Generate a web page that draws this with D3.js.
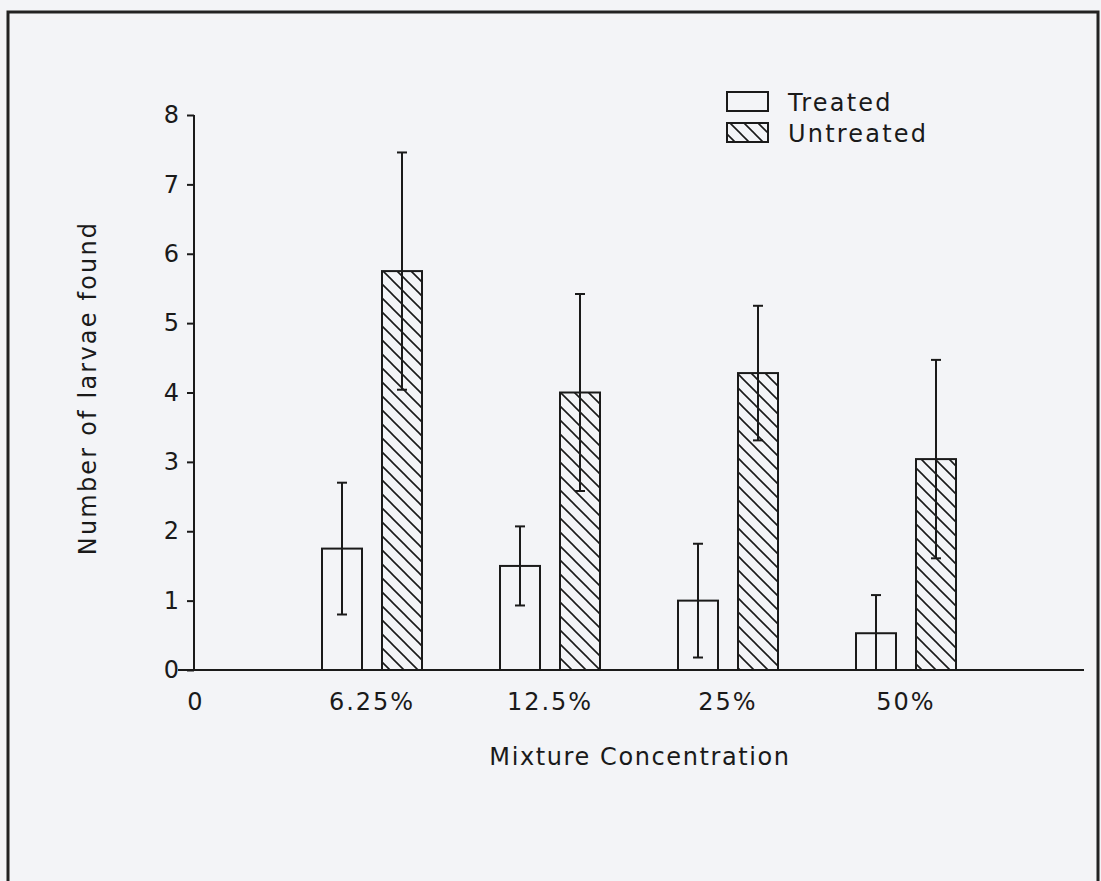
<!DOCTYPE html>
<html>
<head>
<meta charset="utf-8">
<script src="https://cdn.jsdelivr.net/npm/d3@7"></script>
<style>
	body { margin: 0; background: #f3f4f7; }
	svg { display: block; }
	text { font-family: "DejaVu Sans", sans-serif; fill: #1a1a1a; }
</style>
</head>
<body>
<div id="chart"></div>
<script>
// x categories (the "0" is only a label at the origin)
var xLabels = ["0", "6.25%", "12.5%", "25%", "50%"];
var concentrations = ["6.25%", "12.5%", "25%", "50%"];
var treated = [1.75, 1.5, 1.0, 0.53];
var treatedErr = [0.95, 0.57, 0.82, 0.55];
var untreated = [5.75, 4.0, 4.28, 3.04];
var untreatedErr = [1.71, 1.42, 0.97, 1.43];
var yTicks = [0, 1, 2, 3, 4, 5, 6, 7, 8];
var seriesNames = ["Treated", "Untreated"];

var width = 1101;
var height = 881;
var ink = "#1a1a1a";

var svg = d3.select("#chart")
		.append("svg")
		.attr("width", width)
		.attr("height", height);

// hatch for untreated bars
var defs = svg.append("defs");
var pat = defs.append("pattern")
		.attr("id", "hatch")
		.attr("patternUnits", "userSpaceOnUse")
		.attr("width", 14)
		.attr("height", 14);
pat.append("path")
		.attr("d", "M-3,-3 L17,17 M-3,11 L3,17 M11,-3 L17,3")
		.attr("stroke", ink)
		.attr("stroke-width", 1.6);

// outer frame (open at the bottom)
svg.append("path")
		.attr("d", "M8," + height + " L8,12 L1098,12 L1098," + height)
		.attr("fill", "none")
		.attr("stroke", "#222")
		.attr("stroke-width", 3);

var xScale = d3.scaleLinear()
		.domain([0, 5])
		.range([194, 1084]);

var yScale = d3.scaleLinear()
		.domain([0, 8])
		.range([670, 115]);

var barW = 40;
var gap = 10;

// axes
var yAxis = svg.append("g")
		.attr("transform", "translate(" + xScale(0) + ",0)")
		.call(d3.axisLeft(yScale).tickValues(yTicks).tickSize(7).tickPadding(8).tickFormat(d3.format("d")));
yAxis.select(".domain").attr("d", "M0," + yScale(0) + "V" + yScale(8));
yAxis.selectAll("line, path").attr("stroke", ink).attr("stroke-width", 2);
yAxis.selectAll("text").attr("font-size", 24).attr("fill", ink);

// x axis baseline
svg.append("line")
		.attr("x1", xScale(0) - 16)
		.attr("x2", xScale(5))
		.attr("y1", yScale(0))
		.attr("y2", yScale(0))
		.attr("stroke", ink)
		.attr("stroke-width", 2);

svg.append("g")
		.selectAll("text")
		.data(xLabels)
		.enter()
		.append("text")
		.attr("x", function(d, i) { return xScale(i) + (i == 0 ? 2 : 0); })
		.attr("y", 710)
		.attr("text-anchor", "middle")
		.attr("font-size", 24)
		.attr("letter-spacing", 2)
		.text(function(d) { return d; });

// bars
var groups = svg.append("g");
concentrations.forEach(function(c, i) {
	var cx = xScale(i + 1);
	var specs = [
		{ x: cx - gap - barW, v: treated[i], e: treatedErr[i], fill: "none" },
		{ x: cx + gap, v: untreated[i], e: untreatedErr[i], fill: "url(#hatch)" }
	];
	specs.forEach(function(s) {
		groups.append("rect")
			.attr("x", s.x)
			.attr("y", yScale(s.v))
			.attr("width", barW)
			.attr("height", yScale(0) - yScale(s.v))
			.attr("fill", s.fill)
			.attr("stroke", ink)
			.attr("stroke-width", 2);
		var mx = s.x + barW / 2;
		var lo = Math.max(0, s.v - s.e);
		var hi = s.v + s.e;
		groups.append("line")
			.attr("x1", mx).attr("x2", mx)
			.attr("y1", yScale(lo)).attr("y2", yScale(hi))
			.attr("stroke", ink).attr("stroke-width", 2);
		groups.append("line")
			.attr("x1", mx - 5).attr("x2", mx + 5)
			.attr("y1", yScale(hi)).attr("y2", yScale(hi))
			.attr("stroke", ink).attr("stroke-width", 2);
		if (lo > 0) {
			groups.append("line")
				.attr("x1", mx - 5).attr("x2", mx + 5)
				.attr("y1", yScale(lo)).attr("y2", yScale(lo))
				.attr("stroke", ink).attr("stroke-width", 2);
		}
	});
});

// legend
var legend = svg.append("g").attr("transform", "translate(727,92)");
seriesNames.forEach(function(n, i) {
	legend.append("rect")
		.attr("x", 0)
		.attr("y", i * 31)
		.attr("width", 41)
		.attr("height", 19)
		.attr("fill", i == 0 ? "none" : "url(#hatch)")
		.attr("stroke", ink)
		.attr("stroke-width", 2);
	legend.append("text")
		.attr("x", 61)
		.attr("y", i * 31 + 19)
		.attr("font-size", 24)
		.attr("letter-spacing", 2.2)
		.text(n);
});

// axis titles
svg.append("text")
		.attr("x", 640)
		.attr("y", 765)
		.attr("text-anchor", "middle")
		.attr("font-size", 24)
		.attr("letter-spacing", 1.6)
		.text("Mixture Concentration");

svg.append("text")
		.attr("transform", "translate(96,388) rotate(-90)")
		.attr("text-anchor", "middle")
		.attr("font-size", 24)
		.attr("letter-spacing", 2.2)
		.text("Number of larvae found");
</script>
</body>
</html>
